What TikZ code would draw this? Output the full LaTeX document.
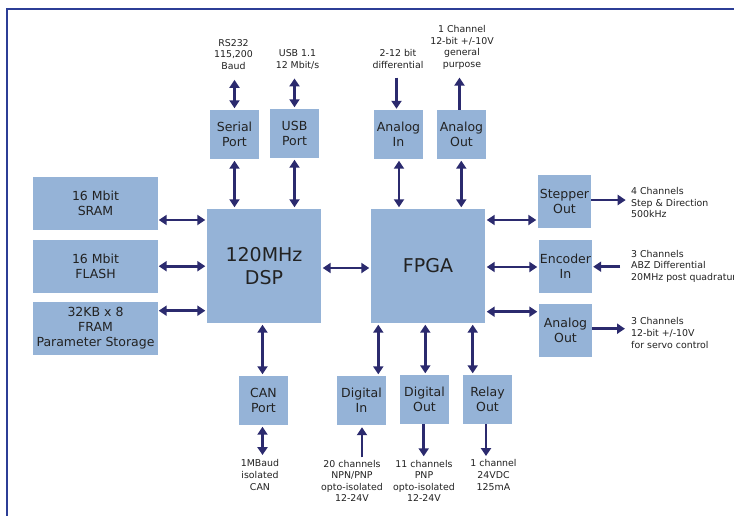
\documentclass[tikz,border=0pt]{standalone}
\usepackage{fontspec}
\setmainfont{DejaVu Sans}
\usetikzlibrary{arrows.meta}
\definecolor{boxblue}{HTML}{95B3D7}
\definecolor{arrcol}{HTML}{2B2A6E}
\definecolor{framecol}{HTML}{2C3E96}
\definecolor{txt}{HTML}{222222}
\begin{document}
\begin{tikzpicture}[x=1pt,y=-1pt,
 blk/.style={fill=boxblue, inner sep=0pt, text=txt, align=center, font=\fontsize{12.5}{14.6}\selectfont},
 bigblk/.style={blk, minimum width=114pt, minimum height=114pt, font=\fontsize{19}{23}\selectfont},
 sq/.style={blk, minimum width=49pt, minimum height=49pt},
 sq53/.style={blk, minimum width=53pt, minimum height=53pt},
 mem/.style={blk, minimum width=125pt, minimum height=53pt},
 lbl/.style={inner sep=0pt, text=txt, align=center, font=\fontsize{9.4}{11.6}\selectfont},
 lblw/.style={lbl, anchor=west, align=left},
 darr/.style={draw=arrcol, line width=2.6pt, {Triangle[length=8pt,width=10pt]}-{Triangle[length=8pt,width=10pt]}, shorten <=1.5pt, shorten >=1.5pt},
 sarr/.style={draw=arrcol, line width=2.6pt, -{Triangle[length=8pt,width=10pt]}}]
\clip (0,0) rectangle (734,515);
\fill[white] (0,0) rectangle (734,515);
\draw[framecol, line width=1.6pt] (7,516) -- (7,9) -- (735,9);

% boxes
\node[sq] (serial) at (234.5,134.5) {Serial\\Port};
\node[sq] (usb) at (294.5,133.5) {USB\\Port};
\node[mem] (sram) at (95.5,203.5) {16 Mbit\\SRAM};
\node[mem] (flash) at (95.5,266.2) {16 Mbit\\FLASH};
\node[mem] (fram) at (95.5,328.2) {32KB x 8\\FRAM\\Parameter Storage};
\node[bigblk] (dsp) at (264,266) {120MHz\\DSP};
\node[bigblk] (fpga) at (428,266) {FPGA};
\node[sq] (ain) at (398.5,134.5) {Analog\\In};
\node[sq] (aout) at (461.5,134.5) {Analog\\Out};
\node[sq53] (stepper) at (564.5,201.5) {Stepper\\Out};
\node[sq53] (encoder) at (565.5,266.2) {Encoder\\In};
\node[sq53] (aout2) at (565.5,330.3) {Analog\\Out};
\node[sq] (can) at (263.5,400.5) {CAN\\Port};
\node[sq] (din) at (361.5,400.5) {Digital\\In};
\node[sq] (dout) at (424.5,399.5) {Digital\\Out};
\node[sq] (relay) at (487.5,399.5) {Relay\\Out};

% labels
\node[lbl] (rs232) at (233.5,54.5) {RS232\\115,200\\Baud};
\node[lbl] (usblbl) at (297.5,59.5) {USB 1.1\\12 Mbit/s};
\node[lbl] (difflbl) at (398,59) {2-12 bit\\differential};
\node[lbl] (chlbl) at (462,47.5) {1 Channel\\12-bit +/-10V\\general\\purpose};
\node[lblw] (steplbl) at (631,202.5) {4 Channels\\Step \& Direction\\500kHz};
\node[lblw] (enclbl) at (631,266) {3 Channels\\ABZ Differential\\20MHz post quadrature};
\node[lblw] (aoutlbl) at (631,333) {3 Channels\\12-bit +/-10V\\for servo control};
\node[lbl] (canlbl) at (260,475) {1MBaud\\isolated\\CAN};
\node[lbl] (dinlbl) at (352,481) {20 channels\\NPN/PNP\\opto-isolated\\12-24V};
\node[lbl] (doutlbl) at (424,481) {11 channels\\PNP\\opto-isolated\\12-24V};
\node[lbl] (relaylbl) at (493.5,475) {1 channel\\24VDC\\125mA};

% DSP side connectors
\draw[darr, shorten >=10pt] (serial.north) -- (serial.north |- rs232.south);
\draw[darr, shorten >=9pt] (usb.north) -- (usb.north |- usblbl.south);
\draw[darr] (serial.south) -- (serial.south |- dsp.north);
\draw[darr] (usb.south) -- (usb.south |- dsp.north);
\draw[darr, shorten <=0.5pt] (sram.east |- 0,220) -- (dsp.west |- 0,220);
\draw[darr, shorten <=0.5pt] (flash.east) -- (flash.east -| dsp.west);
\draw[darr, shorten <=0.5pt] (fram.east |- 0,310.7) -- (dsp.west |- 0,310.7);
\draw[darr] (dsp.east |- 0,268) -- (fpga.west |- 0,268);
\draw[darr] (dsp.south -| 262.5,0) -- (can.north -| 262.5,0);
\draw[darr, shorten >=4.5pt] (can.south -| 262.5,0) -- (canlbl.north -| 262.5,0);

% FPGA side connectors
\draw[sarr, shorten <=9pt, shorten >=1pt] (difflbl.south -| 396.5,0) -- (ain.north -| 396.5,0);
\draw[sarr, shorten >=8pt] (aout.north -| 459.5,0) -- (chlbl.south -| 459.5,0);
\draw[darr] (fpga.north -| 399,0) -- (ain.south -| 399,0);
\draw[darr] (fpga.north -| 461.3,0) -- (aout.south -| 461.3,0);
\draw[darr] (fpga.east |- 0,220) -- (stepper.west |- 0,220);
\draw[darr] (fpga.east |- 0,267) -- (encoder.west |- 0,267);
\draw[darr] (fpga.east |- 0,311.7) -- (aout2.west |- 0,311.7);
\draw[sarr, shorten >=5.3pt] (stepper.east |- 0,200) -- (steplbl.west |- 0,200);
\draw[sarr, shorten <=11pt, shorten >=1pt] (enclbl.west |- 0,266.7) -- (encoder.east |- 0,266.7);
\draw[sarr, shorten >=6pt] (aout2.east |- 0,328.7) -- (aoutlbl.west |- 0,328.7);
\draw[darr] (fpga.south -| 378.3,0) -- (din.north -| 378.3,0);
\draw[darr] (fpga.south -| 425.3,0) -- (dout.north -| 425.3,0);
\draw[darr] (fpga.south -| 472.7,0) -- (relay.north -| 472.7,0);
\draw[sarr, shorten <=2.5pt, shorten >=2pt] (dinlbl.north -| 362,0) -- (din.south -| 362,0);
\draw[sarr, shorten >=3.5pt] (dout.south -| 423.7,0) -- (doutlbl.north -| 423.7,0);
\draw[sarr, shorten >=3.5pt] (relay.south -| 486,0) -- (relaylbl.north -| 486,0);
\end{tikzpicture}
\end{document}
